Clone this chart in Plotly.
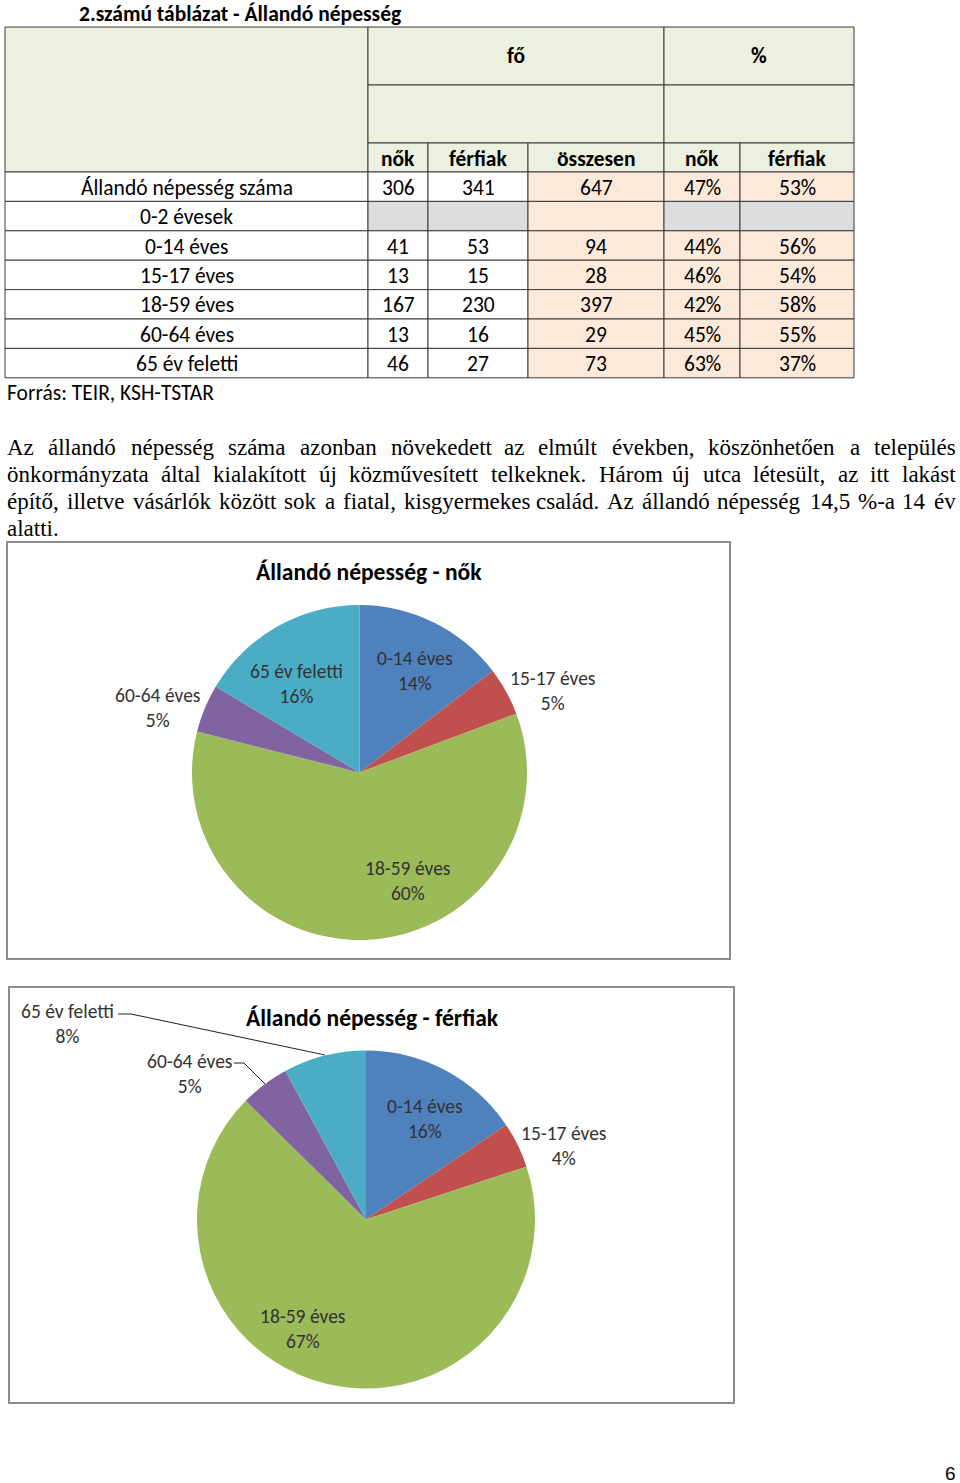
import plotly.graph_objects as go

# ---------------- data ----------------
table_title = "2.számú táblázat - Állandó népesség"
row_labels = ["Állandó népesség száma", "0-2 évesek", "0-14 éves", "15-17 éves",
              "18-59 éves", "60-64 éves", "65 év feletti"]
women_count = [306, None, 41, 13, 167, 13, 46]
men_count = [341, None, 53, 15, 230, 16, 27]
total_count = [647, None, 94, 28, 397, 29, 73]
women_pct = [47, None, 44, 46, 42, 45, 63]
men_pct = [53, None, 56, 54, 58, 55, 37]
group_headers = ["fő", "%"]
sub_headers = ["nők", "férfiak", "összesen", "nők", "férfiak"]
source_note = "Forrás: TEIR, KSH-TSTAR"

paragraph_lines = [
    "Az állandó népesség száma azonban növekedett az elmúlt években, köszönhetően a település",
    "önkormányzata által kialakított új közművesített telkeknek. Három új utca létesült, az itt lakást",
    "építő, illetve vásárlók között sok a fiatal, kisgyermekes család. Az állandó népesség 14,5 %-a 14 év",
    "alatti.",
]

age_groups = ["0-14 éves", "15-17 éves", "18-59 éves", "60-64 éves", "65 év feletti"]
women_by_age = women_count[2:]
men_by_age = men_count[2:]
women_share_label = [14, 5, 60, 5, 16]
men_share_label = [16, 4, 67, 5, 8]
pie_titles = ["Állandó népesség - nők", "Állandó népesség - férfiak"]
page_number = "6"

# ---------------- styles / layout ----------------
W, H = 960, 1483
CAL = "Carlito, Calibri, Lato, sans-serif"
SERIF = "Liberation Serif, Times New Roman, serif"
LINE = "#3a3a3a"
HDR_FILL = "#EBF1DE"
PEACH = "#FDE9D9"
GREY = "#DDDDDD"
SLICE_COLORS = ["#4F81BD", "#C0504D", "#9BBB59", "#8064A2", "#4BACC6"]
TS = 21.5      # table text size
LS = 19.5      # pie label size
PT = 23.5      # pie title size

col_x = [5, 368, 428, 528, 664, 740, 854]
hdr_y = [27, 85, 143, 172]
row_h = 29.4

fig = go.Figure()
# page coordinate system (pixels)
fig.add_trace(go.Scatter(x=[0, W], y=[0, H], mode="markers", marker=dict(opacity=0),
                         hoverinfo="skip", showlegend=False))

shapes = []
ann = []


def rect(x0, y0, x1, y1, fill, line=LINE, lw=1):
    shapes.append(dict(type="rect", xref="x", yref="y", x0=x0, y0=y0, x1=x1, y1=y1,
                       fillcolor=fill, line=dict(color=line, width=lw), layer="below"))


def text(x, y, s, size, font=CAL, bold=False, color="#000", xanchor="center", yanchor="middle"):
    ann.append(dict(x=x, y=y, xref="x", yref="y", text=f"<b>{s}</b>" if bold else s,
                    showarrow=False, xanchor=xanchor, yanchor=yanchor,
                    font=dict(family=font, size=size, color=color)))


# title
text(77, 14, table_title, TS, bold=True, xanchor="left")

# header
rect(col_x[0], hdr_y[0], col_x[1], hdr_y[3], HDR_FILL)
rect(col_x[1], hdr_y[0], col_x[4], hdr_y[1], HDR_FILL)
rect(col_x[4], hdr_y[0], col_x[6], hdr_y[1], HDR_FILL)
rect(col_x[1], hdr_y[1], col_x[4], hdr_y[2], HDR_FILL)
rect(col_x[4], hdr_y[1], col_x[6], hdr_y[2], HDR_FILL)
text((col_x[1] + col_x[4]) / 2, (hdr_y[0] + hdr_y[1]) / 2, group_headers[0], TS, bold=True)
text((col_x[4] + col_x[6]) / 2, (hdr_y[0] + hdr_y[1]) / 2, group_headers[1], TS, bold=True)
for i, h in enumerate(sub_headers):
    rect(col_x[i + 1], hdr_y[2], col_x[i + 2], hdr_y[3], HDR_FILL)
    text((col_x[i + 1] + col_x[i + 2]) / 2, (hdr_y[2] + hdr_y[3]) / 2 + 1, h, TS, bold=True)

# body
for r, lab in enumerate(row_labels):
    y0 = hdr_y[3] + r * row_h
    y1 = y0 + row_h
    yc = (y0 + y1) / 2 + 1
    cols = [
        (lab, "white"),
        (women_count[r], GREY if women_count[r] is None else "white"),
        (men_count[r], GREY if men_count[r] is None else "white"),
        (total_count[r], PEACH),
        (None if women_pct[r] is None else f"{women_pct[r]}%", GREY if women_pct[r] is None else PEACH),
        (None if men_pct[r] is None else f"{men_pct[r]}%", GREY if men_pct[r] is None else PEACH),
    ]
    for c, (val, fill) in enumerate(cols):
        rect(col_x[c], y0, col_x[c + 1], y1, fill)
        if val is not None:
            text((col_x[c] + col_x[c + 1]) / 2, yc, str(val), TS)

text(5, 393, source_note, TS, xanchor="left")

# justified paragraph (Times metrics, 1/1000 em)
TW = dict(a=444, b=500, c=444, d=500, e=444, f=333, g=500, h=500, i=278, j=278, k=500, l=278,
          m=778, n=500, o=500, p=500, q=500, r=333, s=389, t=278, u=500, v=500, w=722, x=500,
          y=500, z=444)
TW.update({"á": 444, "é": 444, "í": 278, "ó": 500, "ö": 500, "ő": 500, "ú": 500, "ü": 500,
           "ű": 500, "A": 722, "H": 722, ",": 250, ".": 250, "%": 833, "-": 333, " ": 250})
for d in "0123456789":
    TW[d] = 500
FS = 23
X0, X1 = 5, 958
line_y = [447, 474, 501, 528]


def wlen(word):
    return sum(TW.get(ch, 500) for ch in word) * FS / 1000 + 1


for li, line in enumerate(paragraph_lines):
    words = line.split(" ")
    if li == len(paragraph_lines) - 1:
        text(X0, line_y[li], line, FS, font=SERIF, xanchor="left")
        continue
    widths = [wlen(w) for w in words]
    n = len(words)
    gap = (X1 - X0 - sum(widths)) / (n - 1)
    lefts = []
    x = X0
    for wd in widths:
        lefts.append(x)
        x += wd + gap
    for k, w in enumerate(words):
        if k < n / 2:
            text(lefts[k], line_y[li], w, FS, font=SERIF, xanchor="left")
        else:
            text(lefts[k] + widths[k], line_y[li], w, FS, font=SERIF, xanchor="right")

# chart frames
shapes.append(dict(type="rect", xref="x", yref="y", x0=7, y0=542, x1=730, y1=959,
                   line=dict(color="#8c8c8c", width=2), layer="below"))
shapes.append(dict(type="rect", xref="x", yref="y", x0=9, y0=987, x1=734, y1=1403,
                   line=dict(color="#8c8c8c", width=2), layer="below"))

# pies
pie_specs = [
    (women_by_age, women_share_label, (359.5, 772.5), 167.5, pie_titles[0], (369, 572),
     [(415, 670), (552, 690), (407, 880), (157, 707), (296, 683)]),
    (men_by_age, men_share_label, (366, 1219.5), 169, pie_titles[1], (372, 1018),
     [(425, 1118), (563, 1145), (302, 1328), (189, 1073), (67, 1023)]),
]
for vals, shares, (cx, cy), rr, ttl, tpos, lpos in pie_specs:
    fig.add_trace(go.Pie(
        values=vals, labels=age_groups, sort=False, direction="clockwise", rotation=0,
        marker=dict(colors=SLICE_COLORS, line=dict(width=0)), textinfo="none",
        hoverinfo="label+value+percent", showlegend=False,
        domain=dict(x=[(cx - rr) / W, (cx + rr) / W], y=[1 - (cy + rr) / H, 1 - (cy - rr) / H]),
    ))
    text(tpos[0], tpos[1], ttl, PT, bold=True)
    for lab, sh, (lx, ly) in zip(age_groups, shares, lpos):
        ann.append(dict(x=lx, y=ly, xref="x", yref="y", text=f"{lab}<br>{sh}%", showarrow=False,
                        xanchor="center", yanchor="middle",
                        font=dict(family=CAL, size=LS, color="#333333")))

# leader lines (men's chart)
shapes.append(dict(type="path", xref="x", yref="y", path="M118,1014 L131,1014 L325,1055",
                   line=dict(color="#222", width=1), layer="above"))
shapes.append(dict(type="path", xref="x", yref="y", path="M234,1063 L244,1063 L265,1084",
                   line=dict(color="#222", width=1), layer="above"))

# page number
text(958, 1473, page_number, 19, font="Liberation Sans, Arial, sans-serif", xanchor="right")

fig.update_layout(
    width=W, height=H, autosize=False,
    margin=dict(l=0, r=0, t=0, b=0, pad=0),
    paper_bgcolor="white", plot_bgcolor="white",
    xaxis=dict(range=[0, W], visible=False, domain=[0, 1], fixedrange=True),
    yaxis=dict(range=[H, 0], visible=False, domain=[0, 1], fixedrange=True),
    shapes=shapes, annotations=ann, showlegend=False,
)

fig.write_html("out.html", config=dict(displayModeBar=False))
